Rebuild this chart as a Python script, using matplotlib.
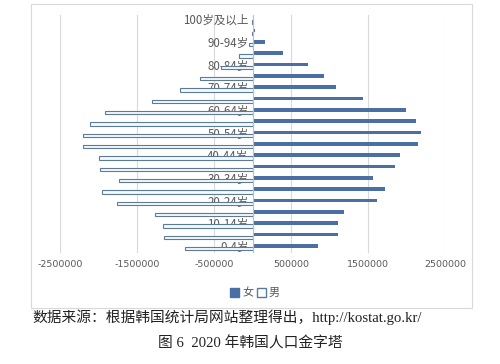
import numpy as np
import matplotlib
matplotlib.use("Agg")
import matplotlib.pyplot as plt
from matplotlib.patches import Patch, Rectangle

plt.rcParams['font.family'] = ['Noto Sans CJK SC', 'DejaVu Sans']

# age groups, bottom to top
ages = ["0-4岁", "5-9岁", "10-14岁", "15-19岁", "20-24岁", "25-29岁", "30-34岁",
        "35-39岁", "40-44岁", "45-49岁", "50-54岁", "55-59岁", "60-64岁", "65-69岁",
        "70-74岁", "75-79岁", "80-84岁", "85-89岁", "90-94岁", "95-99岁", "100岁及以上"]

# population
male = [877000, 1150000, 1165000, 1270000, 1760000, 1960000, 1740000,
        1980000, 2000000, 2200000, 2200000, 2110000, 1910000, 1310000,
        940000, 680000, 410000, 170000, 40000, 8000, 2000]
female = [850000, 1110000, 1110000, 1190000, 1620000, 1720000, 1570000,
          1850000, 1920000, 2150000, 2190000, 2120000, 1990000, 1440000,
          1090000, 930000, 720000, 400000, 160000, 30000, 15000]

xticks = [-2500000, -1500000, -500000, 500000, 1500000, 2500000]

blue = "#4a6fa5"
edge = "#5b7b99"
grey = "#595959"

fig = plt.figure(figsize=(5, 3.64), dpi=100)
ax = fig.add_axes([0.12, 0.305, 0.77, 0.654])

# chart area frame
fig.patches.append(Rectangle((0.062, 0.154), 0.882, 0.835, transform=fig.transFigure,
                             fill=False, edgecolor="#d9d9d9", lw=0.8))

y = np.arange(len(ages))
ax.barh(y - 0.13, -np.array(male), height=0.3, color="#f4f8fb", edgecolor=edge,
        linewidth=0.8, zorder=3, label="男")
ax.barh(y + 0.13, female, height=0.33, color=blue, zorder=3, label="女")

ax.set_xlim(-2500000, 2500000)
ax.set_ylim(-0.5, len(ages) - 0.5)
ax.set_xticks(xticks)
ax.set_xticklabels([str(t) for t in xticks], fontsize=6.8, color=grey,
                   family="DejaVu Sans")
ax.tick_params(axis="x", length=0, pad=5)
ax.set_yticks([])
ax.grid(axis="x", color="#d9d9d9", lw=0.8, zorder=0)
for s in ax.spines.values():
    s.set_visible(False)
ax.axvline(0, color="#bfbfbf", lw=0.8, zorder=4)

for i in range(0, len(ages), 2):
    ax.annotate(ages[i], (0, i), xytext=(-3, 0), textcoords="offset points",
                ha="right", va="center", fontsize=8.3, color=grey, zorder=2)

handles = [Patch(facecolor=blue, edgecolor=blue, label="女"),
           Patch(facecolor="white", edgecolor=edge, label="男")]
fig.legend(handles=handles, loc="center", bbox_to_anchor=(0.51, 0.195), ncol=2,
           frameon=False, fontsize=8, handlelength=0.8, handleheight=0.8,
           handletextpad=0.3, columnspacing=0.3, labelcolor=grey)

serif = ["Liberation Serif", "Noto Sans CJK SC"]
fig.text(0.064, 0.128, "数据来源：根据韩国统计局网站整理得出，http://kostat.go.kr/",
         fontsize=10.6, family=serif, va="center", ha="left", color="#222222")
fig.text(0.5, 0.057, "图 6  2020 年韩国人口金字塔", fontsize=10.6, family=serif,
         va="center", ha="center", color="#222222")

fig.savefig("out.png", dpi=100)
